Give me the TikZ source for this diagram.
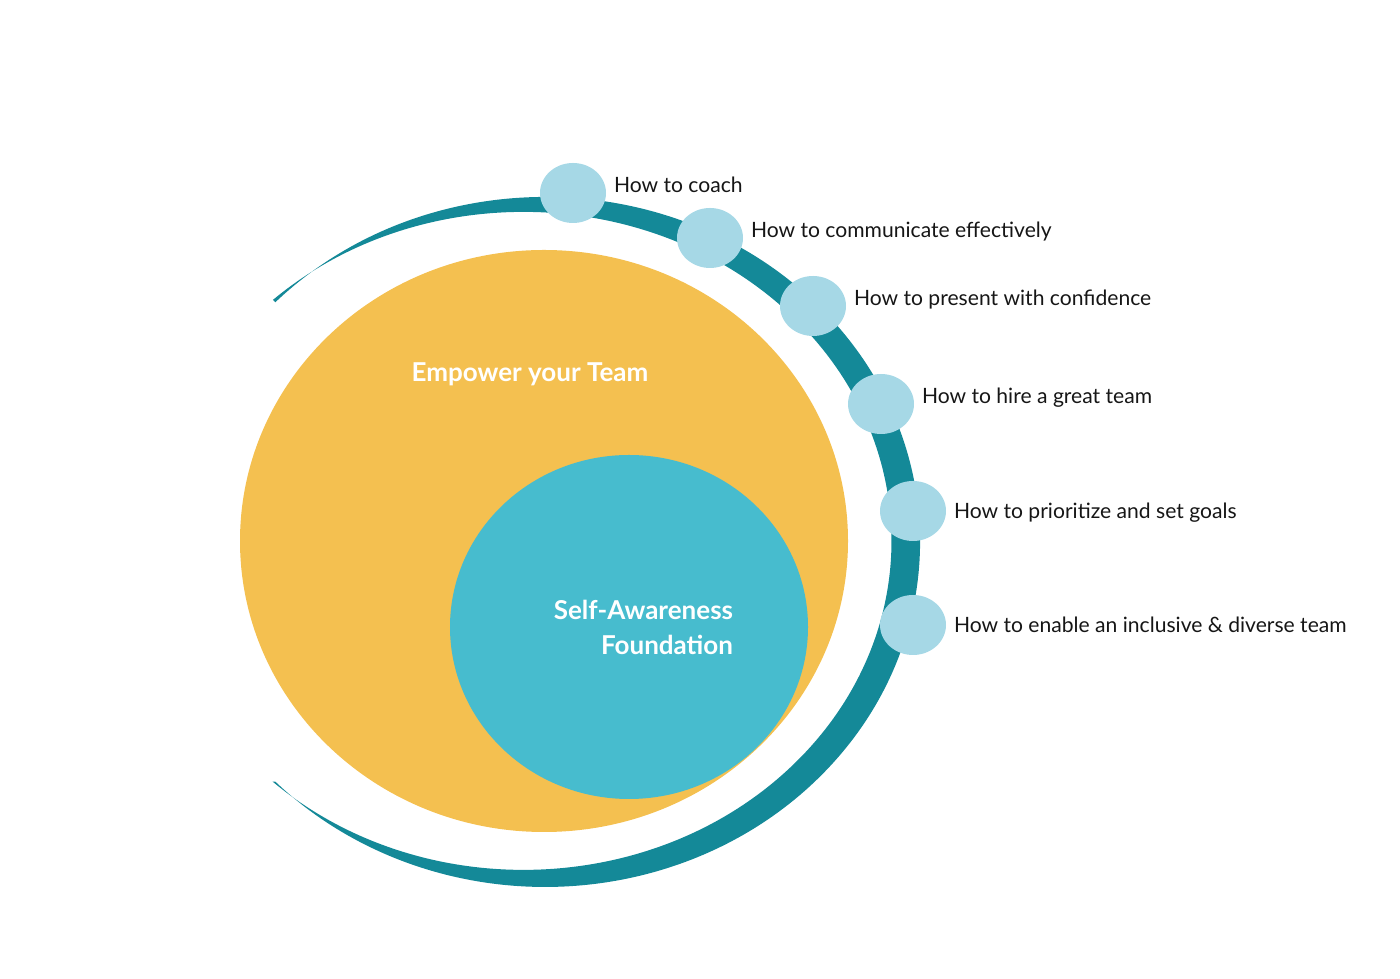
\documentclass[tikz,border=0pt]{standalone}
\usepackage{fontspec}
\setmainfont{Lato}
\usetikzlibrary{positioning,shapes.geometric}
\definecolor{ringteal}{RGB}{20,137,152}
\definecolor{teamyellow}{RGB}{244,192,80}
\definecolor{selfblue}{RGB}{71,188,206}
\definecolor{dotblue}{RGB}{166,216,230}
\definecolor{labelink}{RGB}{22,22,22}

\begin{document}
\begin{tikzpicture}[x=1pt,y=1pt,
    every node/.style={inner sep=0pt,outer sep=0pt},
    dot/.style={ellipse,fill=dotblue,minimum width=66pt,minimum height=60pt},
    lab/.style={anchor=base west,text=labelink,font=\fontsize{21.1}{26}\selectfont},
    core/.style={text=white,font=\fontsize{26}{35}\selectfont\bfseries}]
  \useasboundingbox (0,0) rectangle (1400,979);
  % ---- 外环（月牙形）----
  \fill[ringteal] (275.3,676.7) arc[start angle=136,end angle=-136,x radius=375pt,y radius=345pt]
                  -- (272.5,197.5) arc[start angle=-133,end angle=132.9,x radius=368pt,y radius=329pt]
                  -- cycle;
  % ---- 两个圆 ----
  \fill[teamyellow] (544,438) ellipse[x radius=304pt,y radius=291pt];
  \fill[selfblue]   (629,352) ellipse[x radius=179pt,y radius=172pt];
  \node[core,anchor=base] (team) at (530,597) {Empower your Team};
  \node[core,anchor=east,align=right] (self) at (733,352) {Self-Awareness\\Foundation};
  % ---- 环上的点 ----
  \node[dot] (d1) at (573,786) {};
  \node[dot] (d2) at (710,741) {};
  \node[dot] (d3) at (813,673) {};
  \node[dot] (d4) at (881,575) {};
  \node[dot] (d5) at (913,468) {};
  \node[dot] (d6) at (913,354) {};
  % ---- 标签 ----
  \node[right=8pt of d1,lab] (l1) {How to coach};
  \node[right=8pt of d2,lab] (l2) {How to communicate effectively};
  \node[right=8pt of d3,lab] (l3) {How to present with confidence};
  \node[right=8pt of d4,lab] (l4) {How to hire a great team};
  \node[right=8pt of d5,lab,yshift=-8pt] (l5) {How to prioritize and set goals};
  \node[right=8pt of d6,lab,yshift=-8pt] (l6) {How to enable an inclusive \& diverse team};
\end{tikzpicture}
\end{document}
